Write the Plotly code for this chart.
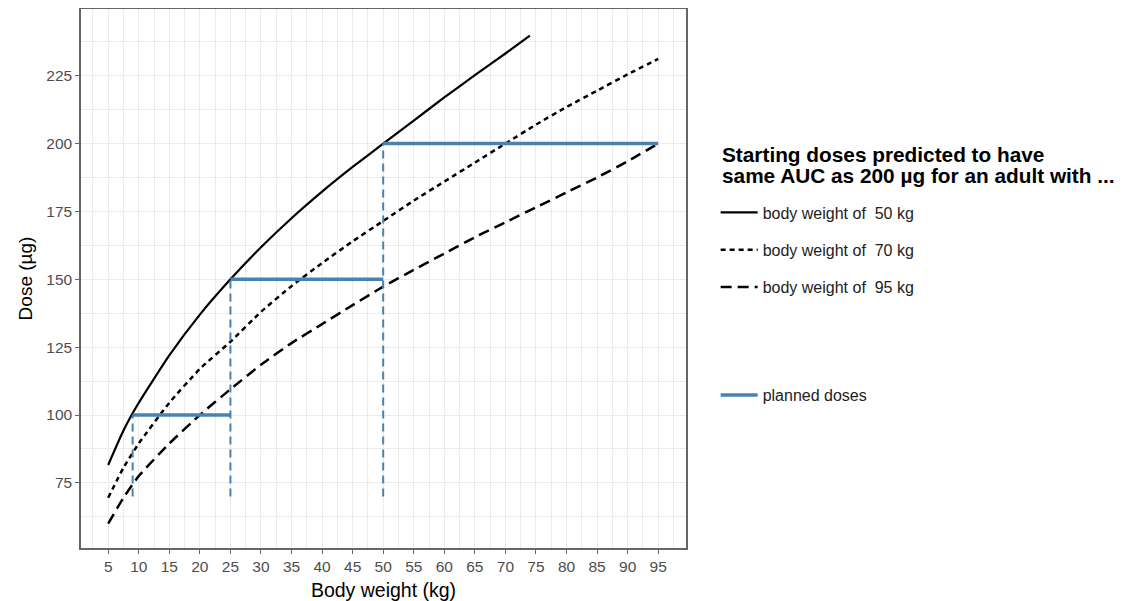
import plotly.graph_objects as go

# ---- data ----
weight_50 = [5, 7.5, 10, 15, 20, 25, 30, 35, 40, 45, 50, 55, 60, 65, 70, 74]
dose_50 = [81.6, 94.3, 104.5, 122.0, 137.0, 150.0, 161.8, 172.5, 182.3, 191.4, 200.0,
           208.5, 217.0, 225.2, 233.2, 239.8]

weight_70 = [5, 7.5, 10, 15, 20, 25, 30, 35, 40, 45, 50, 55, 60, 65, 70, 75, 80, 85, 90, 95]
dose_70 = [69.5, 80.6, 89.5, 104.5, 117.0, 127.0, 138.0, 147.5, 156.0, 164.0, 171.5,
           179.0, 186.0, 193.0, 200.0, 207.0, 213.5, 219.5, 225.5, 231.2]

weight_95 = [5, 7.5, 10, 15, 20, 25, 30, 35, 40, 45, 50, 55, 60, 65, 70, 75, 80, 85, 90, 95]
dose_95 = [60.0, 69.5, 77.5, 89.5, 100.0, 109.5, 118.5, 126.5, 133.5, 140.5, 147.3,
           153.5, 159.5, 165.5, 171.0, 176.5, 182.0, 187.5, 193.5, 200.0]

planned_dose = [100, 150, 200]
planned_from = [9, 25, 50]
planned_to = [25, 50, 95]
drop_floor = 70

x_ticks = list(range(5, 100, 5))
y_ticks = [75, 100, 125, 150, 175, 200, 225]

series_names = ["body weight of \u00a050 kg", "body weight of \u00a070 kg", "body weight of \u00a095 kg"]
legend_title_lines = ["Starting doses predicted to have",
                      "same AUC as 200 µg for an adult with ..."]

BLUE = "#4682B4"
FONT = "Liberation Sans, Arial, sans-serif"

fig = go.Figure()

styles = [("solid", 2.2), ("5px,4px", 2.5), ("11px,6px", 2.5)]
for i, (xs, ys) in enumerate([(weight_50, dose_50), (weight_70, dose_70), (weight_95, dose_95)]):
    fig.add_trace(go.Scatter(
        x=xs, y=ys, mode="lines", name=series_names[i],
        line=dict(color="black", width=styles[i][1], dash=styles[i][0], shape="spline", smoothing=0.5),
        legend="legend", legendgroup=f"g{i}",
    ))

# vertical dashed drop lines
vx, vy = [], []
for w, d in zip(planned_from, planned_dose):
    vx += [w, w, None]
    vy += [drop_floor, d, None]
fig.add_trace(go.Scatter(
    x=vx, y=vy, mode="lines", showlegend=False,
    line=dict(color=BLUE, width=2, dash="8px,5px"), hoverinfo="skip",
))

# horizontal planned dose segments
hx, hy = [], []
for a, b, d in zip(planned_from, planned_to, planned_dose):
    hx += [a, b, None]
    hy += [d, d, None]
fig.add_trace(go.Scatter(
    x=hx, y=hy, mode="lines", name="planned doses",
    line=dict(color=BLUE, width=3.5), legend="legend2",
))

grid_col = "#ebebeb"
frame_col = "#666666"
fig.update_layout(
    width=1129, height=593,
    margin=dict(l=73, r=451, t=1, b=53),
    paper_bgcolor="white", plot_bgcolor="white",
    font=dict(family=FONT, color="black"),
    xaxis=dict(
        range=[0.55, 99.55], tickvals=x_ticks, ticks="outside", ticklen=4,
        tickcolor=frame_col, tickwidth=1,
        tickfont=dict(size=15.5, color="#4d4d4d"),
        showgrid=True, gridcolor=grid_col, gridwidth=1,
        minor=dict(dtick=2.5, tick0=0, showgrid=True, gridcolor=grid_col, gridwidth=0.6, ticks=""),
        showline=True, linecolor=frame_col, linewidth=1.5, mirror=True,
        zeroline=False, automargin=False,
        title=dict(text="Body weight (kg)", font=dict(size=19.5, color="black"), standoff=10),
    ),
    yaxis=dict(
        range=[51.0, 249.6], tickvals=y_ticks, ticks="outside", ticklen=4,
        tickcolor=frame_col, tickwidth=1,
        tickfont=dict(size=15.5, color="#4d4d4d"),
        showgrid=True, gridcolor=grid_col, gridwidth=1,
        minor=dict(dtick=12.5, tick0=62.5, showgrid=True, gridcolor=grid_col, gridwidth=0.6, ticks=""),
        showline=True, linecolor=frame_col, linewidth=1.5, mirror=True,
        zeroline=False, automargin=False,
        title=dict(text="Dose (µg)", font=dict(size=19, color="black"), standoff=9),
    ),
    legend=dict(
        x=1.049, y=0.654, xanchor="left", yanchor="top",
        font=dict(size=16, color="#222222"),
        traceorder="grouped", tracegroupgap=13.5, itemwidth=37,
        bgcolor="rgba(0,0,0,0)",
    ),
    legend2=dict(
        x=1.049, y=0.315, xanchor="left", yanchor="top",
        font=dict(size=16, color="#222222"), itemwidth=37,
        bgcolor="rgba(0,0,0,0)",
    ),
)

for line_text, ypos in zip(legend_title_lines, [0.730, 0.692]):
    fig.add_annotation(
        text=line_text, xref="paper", yref="paper", x=1.0562, y=ypos,
        xanchor="left", yanchor="middle", showarrow=False,
        font=dict(size=20.8, color="black", family=FONT, weight="bold"),
    )

fig.write_html("out.html")
